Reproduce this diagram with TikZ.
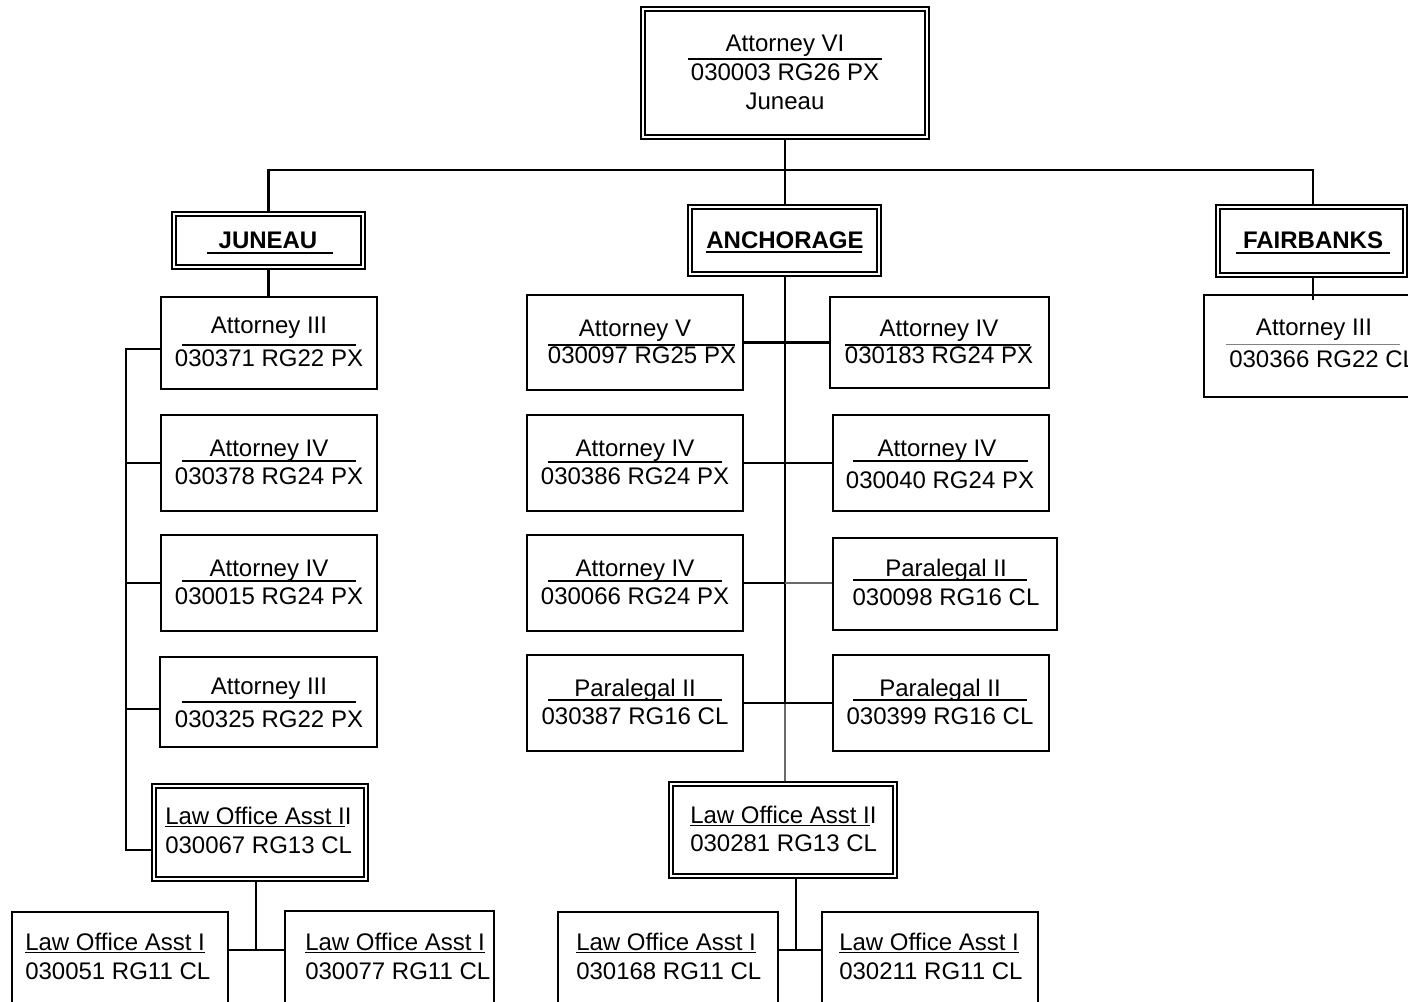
\documentclass[tikz,border=0pt]{standalone}
\usepackage{fontspec}
\setmainfont{Liberation Sans}
\usetikzlibrary{fit}
\definecolor{midgrey}{RGB}{105,105,105}
\definecolor{rulegrey}{RGB}{130,130,130}
\newcommand\atty[9]{%
  \node[box, fit={#2}] (#1) {};
  \node[lbl, anchor=base] (#1t) at (#3,#5) {#4};
  \draw[rl] #6;
  \node[lbl, anchor=base] (#1n) at (#9,#8) {#7};}
\newcommand\dbox[2]{%
  \node[dbl, fit={#2}] (#1) {};
  \draw[line width=0.9pt] ([xshift=3.75pt,yshift=-3.75pt]#1.north west) rectangle ([xshift=-3.75pt,yshift=3.75pt]#1.south east);}
\newcommand\loabox[6]{%
  \node[box, fit={#2}] (#1) {};
  \node[lbl, anchor=base west] (#1t) at (#3,#4) {#5};
  \node[lbl, anchor=base west] (#1n) at (#3,#4+29) {#6};}
\begin{document}
\begin{tikzpicture}[x=0.75pt,y=-0.75pt,
  box/.style={draw, line width=1.3pt, inner sep=0pt},
  dbl/.style={draw, line width=1.6pt, inner sep=0pt},
  lbl/.style={inner sep=0pt, font=\fontsize{18}{21}\selectfont},
  rl/.style={line width=1pt},
  conn/.style={line width=1.6pt},
  gconn/.style={line width=1.2pt, draw=midgrey}]
\useasboundingbox (0,0) rectangle (1408,1001);
\clip (0,0) rectangle (1408,1001);

% ---- top ----
\dbox{top}{(641,7) (929,139)}
\node[lbl, anchor=base] (topt) at (785,51.5) {Attorney VI};
\draw[rl] (688,59) -- (882,59);
\node[lbl, anchor=base] (topn) at (785,80.5) {030003 RG26 PX};
\node[lbl, anchor=base] (topc) at (785,109.5) {Juneau};

% ---- regions ----
\dbox{jun}{(172,212) (365,269)}
\node[lbl, anchor=base, font=\fontsize{18}{21}\selectfont\bfseries] (junt) at (268,248.5) {JUNEAU};
\draw[rl] (207,253) -- (333,253);
\dbox{anc}{(688,205) (881,276)}
\node[lbl, anchor=base, font=\fontsize{18}{21}\selectfont\bfseries] (anct) at (785,248.5) {ANCHORAGE};
\draw[rl] (706,252) -- (862,252);
\dbox{fai}{(1216,205) (1407,277)}
\node[lbl, anchor=base, font=\fontsize{18}{21}\selectfont\bfseries] (fait) at (1313,248.5) {FAIRBANKS};
\draw[rl] (1236,253) -- (1390,253);

% ---- Fairbanks ----
\node[box, fit={(1204,295) (1430,397)}] (fa) {};
\node[lbl, anchor=base] (fat) at (1314,335.5) {Attorney III};
\draw[line width=0.6pt, rulegrey] (1226,344) -- (1400,344);
\node[lbl, anchor=base west] (fan) at (1229,367.5) {030366 RG22 CL};

% ---- Juneau column ----
\atty{j1}{(161,297) (377,389)}{269}{Attorney III}{333.5}{(182,345) -- (356,345)}{030371 RG22 PX}{366.5}{269}
\atty{j2}{(161,415) (377,511)}{269}{Attorney IV}{456.5}{(182,461) -- (356,461)}{030378 RG24 PX}{484.5}{269}
\atty{j3}{(161,535) (377,631)}{269}{Attorney IV}{576.5}{(182,581) -- (356,581)}{030015 RG24 PX}{604.5}{269}
\atty{j4}{(160,657) (377,747)}{269}{Attorney III}{694.5}{(182,702) -- (356,702)}{030325 RG22 PX}{727.5}{269}
\dbox{j5}{(152,784) (368,881)}
\node[lbl, anchor=base west] (j5t) at (165,824.5) {\underline{Law Office Asst I}I};
\node[lbl, anchor=base west] (j5n) at (165,853.5) {030067 RG13 CL};

% ---- Anchorage columns ----
\atty{a1}{(527,295) (743,390)}{635}{Attorney V}{336.5}{(548,345) -- (735,345)}{030097 RG25 PX}{363.5}{642}
\atty{a2}{(830,297) (1049,388)}{939}{Attorney IV}{336.5}{(845,345) -- (1030,345)}{030183 RG24 PX}{363.5}{939}
\atty{a3}{(527,415) (743,511)}{635}{Attorney IV}{456.5}{(548,462) -- (722,462)}{030386 RG24 PX}{484.5}{635}
\atty{a4}{(833,415) (1049,511)}{937}{Attorney IV}{456.5}{(853,461) -- (1028,461)}{030040 RG24 PX}{488.5}{940}
\atty{a5}{(527,535) (743,631)}{635}{Attorney IV}{576.5}{(548,581) -- (722,581)}{030066 RG24 PX}{604.5}{635}
\atty{a6}{(833,538) (1057,630)}{946}{Paralegal II}{576.5}{(853,580) -- (1027,580)}{030098 RG16 CL}{605.5}{946}
\atty{a7}{(527,655) (743,751)}{635}{Paralegal II}{696.5}{(548,700) -- (722,700)}{030387 RG16 CL}{724.5}{635}
\atty{a8}{(833,655) (1049,751)}{940}{Paralegal II}{696.5}{(853,700) -- (1027,700)}{030399 RG16 CL}{724.5}{940}
\dbox{aloa}{(669,782) (897,878)}
\node[lbl, anchor=base west] (aloat) at (690,823.5) {\underline{Law Office Asst I}I};
\node[lbl, anchor=base west] (aloan) at (690,851.5) {030281 RG13 CL};

% ---- bottom row ----
\loabox{b1}{(12,912) (228,1012)}{25}{950.5}{\underline{Law Office Asst I}}{030051 RG11 CL}
\loabox{b2}{(285,911) (494,1012)}{305}{950.5}{\underline{Law Office Asst I}}{030077 RG11 CL}
\loabox{b3}{(558,912) (778,1012)}{576}{950.5}{\underline{Law Office Asst I}}{030168 RG11 CL}
\loabox{b4}{(822,912) (1038,1012)}{839}{950.5}{\underline{Law Office Asst I}}{030211 RG11 CL}

% ---- connectors ----
\coordinate (bus) at (785,170);
\coordinate (fbus) at (1313,170);
\draw[conn] (top.south) -- (top.south |- anc.north);
\draw[conn] (jun.north) -- (jun.north |- bus) -- (fbus) -- (fbus |- fai.north);
\draw[conn] (fbus |- fai.south) -- ([yshift=-4.5pt]fbus |- fa.north);
\draw[conn] (jun.south) -- (jun.south |- j1.north);

\coordinate (lbtop) at (126,349);
\coordinate (lbbot) at (126,850);
\coordinate (lb4) at (126,709);
\draw[conn] (j1.west |- lbtop) -- (lbtop) -- (lbbot) -- (j5.west |- lbbot);
\draw[conn] (j2.west) -- (j2.west -| lbtop);
\draw[conn] (j3.west) -- (j3.west -| lbtop);
\draw[conn] (lb4) -- (j4.west |- lb4);

\coordinate (jb) at (256,950);
\draw[conn] (j5.south -| jb) -- (jb);
\draw[conn] (b1.east |- jb) -- (b2.west |- jb);

\coordinate (ab) at (785,703);
\draw[conn] (anc.south -| ab) -- (ab);
\draw[gconn] (ab) -- (aloa.north -| ab);
\draw[conn] (a1.east) -- (a2.west |- a1.east);
\draw[conn] (a3.east) -- (a4.west |- a3.east);
\draw[conn] (a5.east) -- (a5.east -| ab);
\draw[gconn] (a5.east -| ab) -- (a6.west |- a5.east);
\draw[conn] (a7.east) -- (a8.west |- a7.east);

\coordinate (alb) at (796,950);
\draw[conn] (aloa.south -| alb) -- (alb);
\draw[conn] (b3.east |- alb) -- (b4.west |- alb);
\end{tikzpicture}
\end{document}
